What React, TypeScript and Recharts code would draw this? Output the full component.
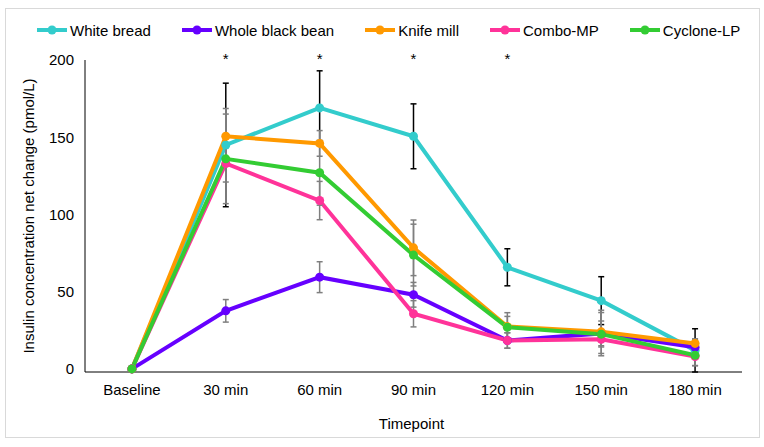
import React from 'react';
import { LineChart, Line, XAxis, YAxis, ErrorBar, Legend, Label, LabelList } from 'recharts';

const categories = ['Baseline', '30 min', '60 min', '90 min', '120 min', '150 min', '180 min'];
const whiteBread = [0, 145, 169, 150.6, 65.8, 44.2, 12];
const whiteBreadErr = [0, 40, 24, 21, 12, 15.5, 14];
const wholeBlackBean = [0, 37.6, 59.4, 48, 18.4, 23, 14];
const wholeBlackBeanErr = [0, 7.3, 10, 8, 5, 8, 5.2];
const knifeMill = [0, 150.6, 146, 78.4, 27.4, 24, 16.5];
const knifeMillErr = [0, 18, 8.3, 18, 9, 14, 3];
const comboMP = [0, 133, 109, 35.7, 18.4, 19.2, 8];
const comboMPErr = [0, 12, 12.4, 8.5, 5, 5, 6];
const cycloneLP = [0, 136, 127, 73.7, 27, 22.5, 8.8];
const cycloneLPErr = [0, 29, 21, 20, 7, 14, 6.6];
const significant = [false, true, true, true, true, false, false];
const yTicks = [0, 50, 100, 150, 200];

const seriesNames = ['White bread', 'Whole black bean', 'Knife mill', 'Combo-MP', 'Cyclone-LP'];
const seriesColors = ['#33CCCC', '#6600FF', '#FF9900', '#FF3399', '#33CC33'];

const data = categories.map((c, i) => ({
  name: c,
  wb: whiteBread[i],
  wbErr: whiteBreadErr[i],
  bb: wholeBlackBean[i],
  bbErr: wholeBlackBeanErr[i],
  km: knifeMill[i],
  kmErr: knifeMillErr[i],
  cm: comboMP[i],
  cmErr: comboMPErr[i],
  cl: cycloneLP[i],
  clErr: cycloneLPErr[i],
  sig: significant[i] ? 200 : null,
}));

const FONT = '"Liberation Sans", Arial, sans-serif';

const LegendContent = () => (
  <div style={{ display: 'flex', alignItems: 'center', fontFamily: FONT, fontSize: 15, color: '#000', height: 20 }}>
    {seriesNames.map((name, i) => (
      <div key={name} style={{ display: 'flex', alignItems: 'center', marginRight: 31 }}>
        <svg width={30} height={12} style={{ marginRight: 3 }}>
          <line x1={0} y1={6} x2={30} y2={6} stroke={seriesColors[i]} strokeWidth={4} />
          <circle cx={15} cy={6} r={4.5} fill={seriesColors[i]} />
        </svg>
        <span style={{ whiteSpace: 'nowrap' }}>{name}</span>
      </div>
    ))}
  </div>
);

const keys = ['wb', 'bb', 'km', 'cm', 'cl'];
const PLOT_W = 764 - 85 - 22;
const HALF_BAND = PLOT_W / categories.length / 2;

export default function App() {
  return (
    <div style={{ position: 'absolute', left: 0, top: 0, width: 764, height: 447, background: '#fff' }}>
      <div
        style={{
          position: 'absolute',
          left: 5,
          top: 8,
          width: 755,
          height: 430,
          border: '1px solid #d9d9d9',
          boxSizing: 'border-box',
        }}
      />
      <div style={{ position: 'absolute', left: 0, top: 0 }}>
        <LineChart
          width={764}
          height={447}
          data={data}
          margin={{ top: 60, right: 22, bottom: 0, left: 0 }}
          style={{ fontFamily: FONT }}
        >
          <XAxis
            dataKey="name"
            height={75}
            tickLine={false}
            axisLine={{ stroke: '#000', strokeWidth: 1 }}
            tick={{ fill: '#000', fontSize: 15, fontFamily: FONT }}
            tickMargin={6}
            interval={0}
            padding={{ left: HALF_BAND, right: HALF_BAND }}
          >
            <Label
              content={(p: any) => {
                const vb = p.viewBox;
                return (
                  <text x={vb.x + vb.width / 2 - 2} y={429} textAnchor="middle" fontSize={15} fill="#000" fontFamily={FONT}>
                    Timepoint
                  </text>
                );
              }}
            />
          </XAxis>
          <YAxis
            width={85}
            domain={[0, 200]}
            ticks={yTicks}
            tickLine={false}
            axisLine={{ stroke: '#000', strokeWidth: 1 }}
            tick={{ fill: '#000', fontSize: 15, fontFamily: FONT }}
            tickMargin={5}
          >
            <Label
              content={(p: any) => {
                const vb = p.viewBox;
                const cy = vb.y + vb.height / 2;
                return (
                  <text
                    transform={`translate(33.5, ${cy}) rotate(-90)`}
                    x={0}
                    y={0}
                    textAnchor="middle"
                    fontSize={15}
                    fill="#000"
                    fontFamily={FONT}
                  >
                    Insulin concentration net change (pmol/L)
                  </text>
                );
              }}
            />
          </YAxis>
          <Legend
            layout="horizontal"
            verticalAlign="middle"
            align="center"
            wrapperStyle={{ top: 20, left: 37, width: 720 }}
            content={<LegendContent />}
          />
          {keys.map((k, i) => (
            <Line
              key={k}
              type="linear"
              dataKey={k}
              name={seriesNames[i]}
              stroke={seriesColors[i]}
              strokeWidth={4}
              dot={{ r: 4.5, fill: seriesColors[i], stroke: seriesColors[i], strokeWidth: 0 }}
              activeDot={false}
              isAnimationActive={false}
            >
              <ErrorBar
                dataKey={`${k}Err`}
                direction="y"
                width={3}
                stroke={i === 0 ? '#000' : '#7f7f7f'}
                strokeWidth={1.5}
                isAnimationActive={false}
              />
            </Line>
          ))}
          <Line
            dataKey="sig"
            name="sig"
            stroke="none"
            dot={false}
            activeDot={false}
            legendType="none"
            isAnimationActive={false}
          >
            <LabelList
              dataKey="sig"
              content={(p: any) => {
                if (p.value == null) return null;
                return (
                  <text x={p.x} y={p.y + 4} textAnchor="middle" fontSize={15} fill="#000" fontFamily={FONT}>
                    *
                  </text>
                );
              }}
            />
          </Line>
        </LineChart>
      </div>
    </div>
  );
}
